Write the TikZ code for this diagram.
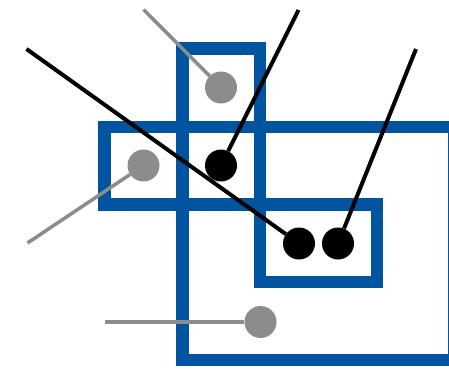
\documentclass[tikz,border=0pt]{standalone}
\usetikzlibrary{positioning}

\definecolor{boxblue}{RGB}{0,84,160}
\definecolor{dotgray}{RGB}{140,140,140}

\tikzset{
  region/.style={draw=boxblue, line width=12.5pt},
  pin/.style={line width=3.5pt},
  dot/.style={circle, fill, inner sep=0pt, minimum size=32pt},
}

\begin{document}
\begin{tikzpicture}[x=1pt, y=-1pt]
\useasboundingbox (0,0) rectangle (449,370);
\clip (0,0) rectangle (449,370);
% regions
\draw[region] (182.5,48.5) rectangle (260,204.5);
\draw[region] (104.5,127) rectangle (260,204.5);
\draw[region] (182.5,127) rectangle (454.3,360);
\draw[region] (260,204.5) rectangle (377,282);
% points
\node[dot, dotgray] (g1) at (221,87.5) {};
\node[dot, dotgray] (g2) at (143.5,165.5) {};
\node[dot, dotgray] (g3) at (260.5,322) {};
\node[dot, black]   (b1) at (221,165.5) {};
\node[dot, black]   (b2) at (299,243.5) {};
\node[dot, black]   (b3) at (338,243.5) {};
% free ends
\coordinate (g1end) at (143.5,9.5);
\coordinate (g2end) at (27.5,243);
\coordinate (g3end) at (104.5,322);
\coordinate (b1end) at (298.5,10);
\coordinate (b2end) at (26.5,49);
\coordinate (b3end) at (416,49);
% pins
\draw[pin, dotgray] (g1end) -- (g1);
\draw[pin, dotgray] (g2end) -- (g2);
\draw[pin, dotgray] (g3end) -- (g3);
\draw[pin, black, line width=4pt] (b1end) -- (b1);
\draw[pin, black, line width=4pt] (b2end) -- (b2);
\draw[pin, black, line width=4pt] (b3end) -- (b3);
\end{tikzpicture}
\end{document}
